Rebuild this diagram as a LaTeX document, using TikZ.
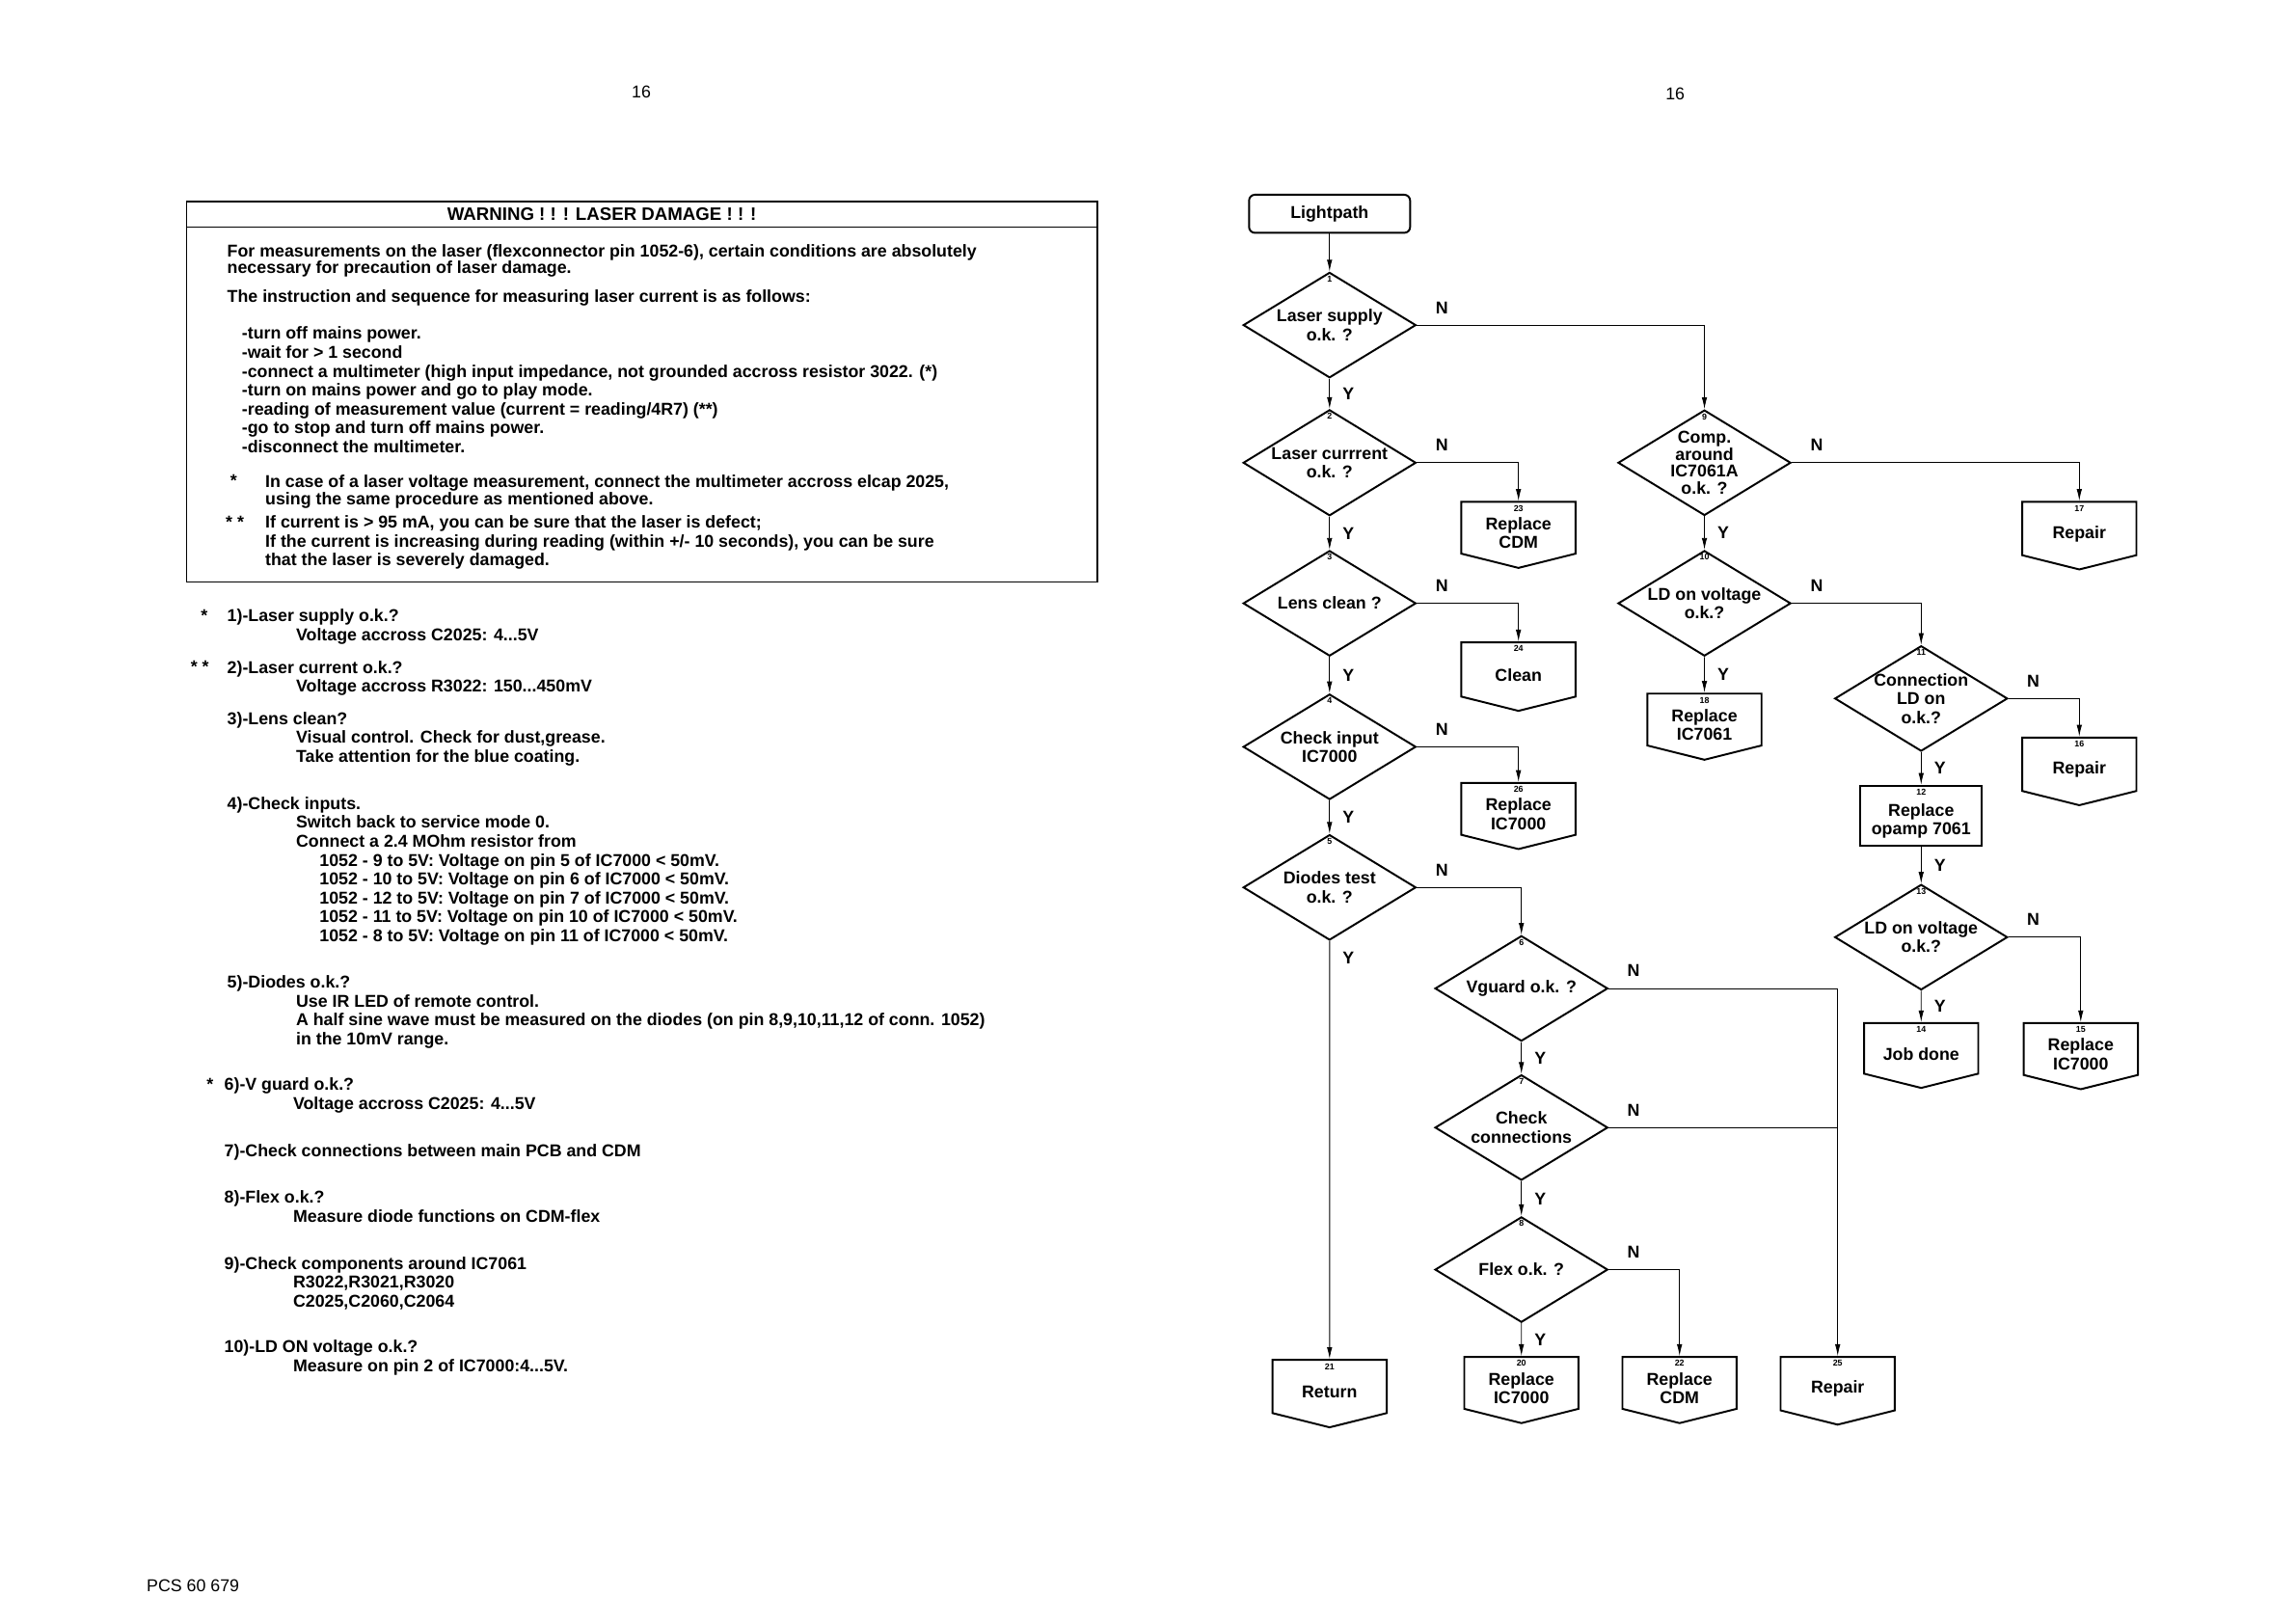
\documentclass[tikz,border=0pt]{standalone}
\usepackage{fontspec}
\setmainfont{Liberation Sans}
\usetikzlibrary{positioning,arrows.meta,shapes.geometric,shapes.symbols}

\newcommand{\ind}{\hspace*{14.1mm}}
\newcommand{\indd}{\hspace*{18.9mm}}
\newcommand{\bx}{\rule{0pt}{13.5pt}}

\begin{document}
\begin{tikzpicture}[
  x=0.3mm, y=-0.3mm,
  >={Latex[length=2.4mm,width=1.1mm]},
  txt/.style={anchor=north west, inner sep=0pt, align=left, font=\fontsize{10}{11}\selectfont\bfseries},
  plain/.style={inner sep=0pt, font=\fontsize{10}{12}\selectfont},
  base/.style={draw, line width=1.1pt, align=center, font=\fontsize{10}{11}\selectfont\bfseries},
  decision/.style={base, diamond, minimum width=35.4mm, minimum height=21.6mm, inner sep=-6pt},
  offpage/.style={base, signal, signal to=south, signal pointer angle=152, minimum width=23.4mm, minimum height=12.4mm, inner sep=1pt, anchor=north},
  num/.style={anchor=north, inner sep=2.4pt, font=\fontsize{5}{5}\selectfont\bfseries},
  yn/.style={inner sep=0pt, font=\fontsize{10}{11}\selectfont\bfseries},
  yl/.style={yn, anchor=west, xshift=2.6mm},
  ar/.style={->, line width=0.5pt},
  ln/.style={line width=0.5pt}
]
\useasboundingbox (0,0) rectangle (1568,1108);
% Seitenzahlen
\node[plain] (pg1) at (438,63) {16};
\node[plain] (pg2) at (1144,64) {16};
\node[plain, anchor=west] (pcs) at (100,1083) {PCS 60 679};
% Warnung
\node[draw, line width=0.9pt, minimum width=186.6mm, minimum height=78mm, anchor=north west, inner sep=0pt] (warn) at (127,137) {};
\draw[line width=0.9pt] ([yshift=-5.4mm]warn.north west) -- ([yshift=-5.4mm]warn.north east);
\node[yn, font=\fontsize{10.5}{11}\selectfont\bfseries] (whead) at (411,146) {WARNING ! ! ! LASER DAMAGE ! ! !};
\node[txt, font=\fontsize{10}{9.4}\selectfont\bfseries] (w1) at (155,167) {For measurements on the laser (flexconnector pin 1052-6), certain conditions are absolutely\\
  necessary for precaution of laser damage.};
\node[txt] (w2) at (155,198) {The instruction and sequence for measuring laser current is as follows:};
\node[txt] (w3) at (165,223) {-turn off mains power.\\
  -wait for > 1 second\\
  -connect a multimeter (high input impedance, not grounded accross resistor 3022. (*)\\
  -turn on mains power and go to play mode.\\
  -reading of measurement value (current = reading/4R7) (**)\\
  -go to stop and turn off mains power.\\
  -disconnect the multimeter.};
\node[txt] (s1) at (157,324) {*};
\node[txt, font=\fontsize{10}{8}\selectfont\bfseries] (w4) at (181,324) {In case of a laser voltage measurement, connect the multimeter accross elcap 2025,\\
  using the same procedure as mentioned above.};
\node[txt] (s2) at (154,352) {* *};
\node[txt] (w5) at (181,352) {If current is > 95 mA, you can be sure that the laser is defect;\\
  If the current is increasing during reading (within +/- 10 seconds), you can be sure\\
  that the laser is severely damaged.};
% Erlaeuterungen
\node[txt] (s3) at (137,416) {*};
\node[txt] (i1) at (155,416) {1)-Laser supply o.k.?\\\ind Voltage accross C2025: 4...5V};
\node[txt] (s4) at (130,451) {* *};
\node[txt] (i2) at (155,451) {2)-Laser current o.k.?\\\ind Voltage accross R3022: 150...450mV};
\node[txt] (i3) at (155,486) {3)-Lens clean?\\\ind Visual control. Check for dust,grease.\\\ind Take attention for the blue coating.};
\node[txt] (i4) at (155,544) {4)-Check inputs.\\
  \ind Switch back to service mode 0.\\
  \ind Connect a 2.4 MOhm resistor from\\
  \indd 1052 - 9 to 5V: Voltage on pin 5 of IC7000 < 50mV.\\
  \indd 1052 - 10 to 5V: Voltage on pin 6 of IC7000 < 50mV.\\
  \indd 1052 - 12 to 5V: Voltage on pin 7 of IC7000 < 50mV.\\
  \indd 1052 - 11 to 5V: Voltage on pin 10 of IC7000 < 50mV.\\
  \indd 1052 - 8 to 5V: Voltage on pin 11 of IC7000 < 50mV.};
\node[txt] (i5) at (155,666) {5)-Diodes o.k.?\\
  \ind Use IR LED of remote control.\\
  \ind A half sine wave must be measured on the diodes (on pin 8,9,10,11,12 of conn. 1052)\\
  \ind in the 10mV range.};
\node[txt] (s5) at (141,736) {*};
\node[txt] (i6) at (153,736) {6)-V guard o.k.?\\\ind Voltage accross C2025: 4...5V};
\node[txt] (i7) at (153,781) {7)-Check connections between main PCB and CDM};
\node[txt] (i8) at (153,813) {8)-Flex o.k.?\\\ind Measure diode functions on CDM-flex};
\node[txt] (i9) at (153,858) {9)-Check components around IC7061\\\ind R3022,R3021,R3020\\\ind C2025,C2060,C2064};
\node[txt] (i10) at (153,915) {10)-LD ON voltage o.k.?\\\ind Measure on pin 2 of IC7000:4...5V.};
% Ablauf
\node[base, rounded corners=1.2mm, minimum width=33mm, minimum height=7.8mm] (start) at (908,146) {Lightpath};
\node[decision, label={[num]north:1}] (d1) at (908,222) {Laser supply\\o.k. ?};
\node[decision, label={[num]north:2}] (d2) at (908,316) {Laser currrent\\o.k. ?};
\node[decision, label={[num]north:3}] (d3) at (908,412) {Lens clean ?};
\node[decision, label={[num]north:4}] (d4) at (908,510) {Check input\\IC7000};
\node[decision, label={[num]north:5}] (d5) at (908,606) {Diodes test\\o.k. ?};
\node[decision, label={[num]north:6}] (d6) at (1039,675) {Vguard o.k. ?};
\node[decision, label={[num]north:7}] (d7) at (1039,770) {Check\\connections};
\node[decision, label={[num]north:8}] (d8) at (1039,867) {Flex o.k. ?};
\node[decision, font=\fontsize{10}{10}\selectfont\bfseries, label={[num]north:9}] (d9) at (1164,316) {Comp.\\around\\IC7061A\\o.k. ?};
\node[decision, label={[num]north:10}] (d10) at (1164,412) {LD on voltage\\o.k.?};
\node[decision, label={[num]north:11}] (d11) at (1312,477) {Connection\\LD on\\o.k.?};
\node[base, minimum width=24.9mm, minimum height=12.3mm, label={[num]north:12}] (r12) at (1312,557) {\bx Replace\\opamp 7061};
\node[decision, label={[num]north:13}] (d13) at (1312,640) {LD on voltage\\o.k.?};
\node[offpage, label={[num]north:23}] (r23) at (1037,342) {\bx Replace\\CDM};
\node[offpage, label={[num]north:24}] (r24) at (1037,438) {\bx Clean};
\node[offpage, label={[num]north:26}] (r26) at (1037,534) {\bx Replace\\IC7000};
\node[offpage, label={[num]north:21}] (r21) at (908,928) {\bx Return};
\node[offpage, label={[num]north:20}] (r20) at (1039,926) {\bx Replace\\IC7000};
\node[offpage, label={[num]north:22}] (r22) at (1147,926) {\bx Replace\\CDM};
\node[offpage, label={[num]north:25}] (r25) at (1255,926) {\bx Repair};
\node[offpage, label={[num]north:17}] (r17) at (1420,342) {\bx Repair};
\node[offpage, label={[num]north:18}] (r18) at (1164,473) {\bx Replace\\IC7061};
\node[offpage, label={[num]north:16}] (r16) at (1420,503) {\bx Repair};
\node[offpage, label={[num]north:14}] (r14) at (1312,698) {\bx Job done};
\node[offpage, label={[num]north:15}] (r15) at (1421,698) {\bx Replace\\IC7000};
% Ja-Zweige
\draw[ar] (start) -- (d1);
\draw[ar] (d1) -- node[yl] (y1) {Y} (d2);
\draw[ar] (d2) -- node[yl] (y2) {Y} (d3);
\draw[ar] (d3) -- node[yl] (y3) {Y} (d4);
\draw[ar] (d4) -- node[yl] (y4) {Y} (d5);
\draw[ar] (d5) -- node[yl, pos=0.04] (y5) {Y} (r21);
\draw[ar] (d6) -- node[yl] (y6) {Y} (d7);
\draw[ar] (d7) -- node[yl] (y7) {Y} (d8);
\draw[ar] (d8) -- node[yl] (y8) {Y} (r20);
\draw[ar] (d9) -- node[yl] (y9) {Y} (d10);
\draw[ar] (d10) -- node[yl] (y10) {Y} (r18);
\draw[ar] (d11) -- node[yl] (y11) {Y} (r12);
\draw[ar] (r12) -- node[yl] (y12) {Y} (d13);
\draw[ar] (d13) -- node[yl] (y13) {Y} (r14);
% Nein-Zweige
\draw[ar] (d1.east) -| (d9.north);
\draw[ar] (d2.east) -| (r23.north);
\draw[ar] (d3.east) -| (r24.north);
\draw[ar] (d4.east) -| (r26.north);
\draw[ar] (d5.east) -| (d6.north);
\draw[ar] (d6.east) -| (r25.north);
\draw[ln] (d7.east) -- (d7.east -| r25.north);
\draw[ar] (d8.east) -| (r22.north);
\draw[ar] (d9.east) -| (r17.north);
\draw[ar] (d10.east) -| (d11.north);
\draw[ar] (d11.east) -| (r16.north);
\draw[ar] (d13.east) -| (r15.north);
\node[yn] (n1) at ([shift={(17,-12)}]d1.east) {N};
\node[yn] (n2) at ([shift={(17,-12)}]d2.east) {N};
\node[yn] (n3) at ([shift={(17,-12)}]d3.east) {N};
\node[yn] (n4) at ([shift={(17,-12)}]d4.east) {N};
\node[yn] (n5) at ([shift={(17,-12)}]d5.east) {N};
\node[yn] (n6) at ([shift={(17,-12)}]d6.east) {N};
\node[yn] (n7) at ([shift={(17,-12)}]d7.east) {N};
\node[yn] (n8) at ([shift={(17,-12)}]d8.east) {N};
\node[yn] (n9) at ([shift={(17,-12)}]d9.east) {N};
\node[yn] (n10) at ([shift={(17,-12)}]d10.east) {N};
\node[yn] (n11) at ([shift={(17,-12)}]d11.east) {N};
\node[yn] (n13) at ([shift={(17,-12)}]d13.east) {N};
\end{tikzpicture}
\end{document}
